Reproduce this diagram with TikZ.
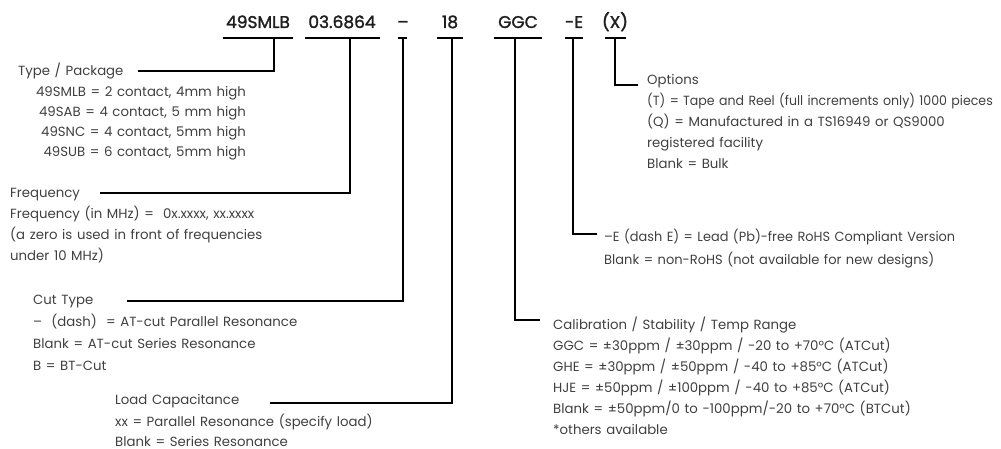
\documentclass[tikz,border=0pt]{standalone}
\usepackage{graphicx}
\usepackage{fontspec}
\setmainfont{Poppins}
\newfontfamily\titlefont[FakeBold=1.6]{Poppins}
\newcommand{\bodyfont}{\fontsize{13.3}{16}\selectfont\spaceskip=4.6pt plus 1pt minus 1pt\relax}
\begin{document}
\begin{tikzpicture}[x=1pt,y=-1pt,
  txt/.style={anchor=base west, inner sep=0pt, font=\bodyfont, text=black!75},
  txtr/.style={txt, anchor=base east},
  ttl/.style={anchor=base, inner sep=0pt, font=\titlefont\fontsize{17}{20}\selectfont, text=black!88},
  conn/.style={line width=2pt, black},
  uline/.style={line width=2pt, black}]
\useasboundingbox (0,0) rectangle (1001,449);
% title
\node[ttl] (t1) at (258,28) {49SMLB};
\node[ttl] (t2) at (342,28) {03.6864};
\node[ttl] (t3) at (403,28) {–};
\node[ttl] (t4) at (450,28) {18};
\node[ttl] (t5) at (518,28) {GGC};
\node[ttl] (t6) at (574,28) {-E};
\node[ttl] (t7) at (615,28) {(X)};
% underlines
\draw[uline] (223,38) -- (293,38);
\draw[uline] (305,38) -- (380,38);
\draw[uline] (398,38) -- (407,38);
\draw[uline] (437,38) -- (463,38);
\draw[uline] (494,38) -- (542,38);
\draw[uline] (565,38) -- (583,38);
\draw[uline] (605,38) -- (626,38);
\coordinate (u1) at (274,38);
\coordinate (u2) at (350,38);
\coordinate (u3) at (403,38);
\coordinate (u4) at (452,38);
\coordinate (u5) at (515,38);
\coordinate (u6) at (573,38);
\coordinate (u7) at (615,38);
\coordinate (h1) at (138,71.5);
\coordinate (h2) at (100,193);
\coordinate (h3) at (127,300.5);
\coordinate (h4) at (270,403);
\coordinate (h5) at (540,320);
\coordinate (h6) at (597,234);
\coordinate (h7) at (638,85);
\draw[conn] (u1) |- (h1);
\draw[conn] (u2) |- (h2);
\draw[conn] (u3) |- (h3);
\draw[conn] (u4) |- (h4);
\draw[conn] (u5) |- (h5);
\draw[conn] (u6) |- (h6);
\draw[conn] (u7) |- (h7);
% Type / Package
\node[txt] (tp) at (18,75.5) {Type / Package};
\node[txtr] (tp1) at (246,96.5) {49SMLB = 2 contact, 4mm high};
\node[txtr] (tp2) at (246,116.5) {49SAB = 4 contact, 5 mm high};
\node[txtr] (tp3) at (246,136.5) {49SNC = 4 contact, 5mm high};
\node[txtr] (tp4) at (246,156.5) {49SUB = 6 contact, 5mm high};
% Frequency
\node[txt] (fr) at (10,197.5) {Frequency};
\node[txt] (fr1) at (10,218.5) {Frequency (in MHz) =\ \ 0x.xxxx, xx.xxxx};
\node[txt] (fr2) at (10,239.5) {(a zero is used in front of frequencies};
\node[txt] (fr3) at (10,260.5) {under 10 MHz)};
% Cut type
\node[txt] (ct) at (33,304.5) {Cut Type};
\node[txt] (ct1) at (33,326.5) {–\ \ (dash)\ \ = AT-cut Parallel Resonance};
\node[txt] (ct2) at (33,348.5) {Blank = AT-cut Series Resonance};
\node[txt] (ct3) at (33,370.5) {B = BT-Cut};
% Load capacitance
\node[txt] (lc) at (115,404.5) {Load Capacitance};
\node[txt] (lc1) at (115,426) {xx = Parallel Resonance (specify load)};
\node[txt] (lc2) at (115,446) {Blank = Series Resonance};
% Options
\node[txt] (op) at (647,84.5) {Options};
\node[txt] (op1) at (647,105.5) {\scalebox{0.945}[1]{(T) = Tape and Reel (full increments only) 1000 pieces}};
\node[txt] (op2) at (647,126.5) {(Q) = Manufactured in a TS16949 or QS9000};
\node[txt] (op3) at (647,147.5) {registered facility};
\node[txt] (op4) at (647,168.5) {Blank = Bulk};
% RoHS
\node[txt] (rh1) at (604,241.5) {\scalebox{0.97}[1]{–E (dash E) = Lead (Pb)-free RoHS Compliant Version}};
\node[txt] (rh2) at (604,264.5) {\scalebox{0.98}[1]{Blank = non-RoHS (not available for new designs)}};
% Calibration
\node[txt] (cs) at (553,329.5) {Calibration / Stability / Temp Range};
\node[txt] (cs1) at (553,350) {GGC = ±30ppm / ±30ppm / -20 to +70°C (ATCut)};
\node[txt] (cs2) at (553,371) {GHE = ±30ppm / ±50ppm / -40 to +85°C (ATCut)};
\node[txt] (cs3) at (553,392.5) {HJE = ±50ppm / ±100ppm / -40 to +85°C (ATCut)};
\node[txt] (cs4) at (553,413.5) {Blank = ±50ppm/0 to -100ppm/-20 to +70°C (BTCut)};
\node[txt] (cs5) at (553,434.5) {*others available};
\end{tikzpicture}
\end{document}
